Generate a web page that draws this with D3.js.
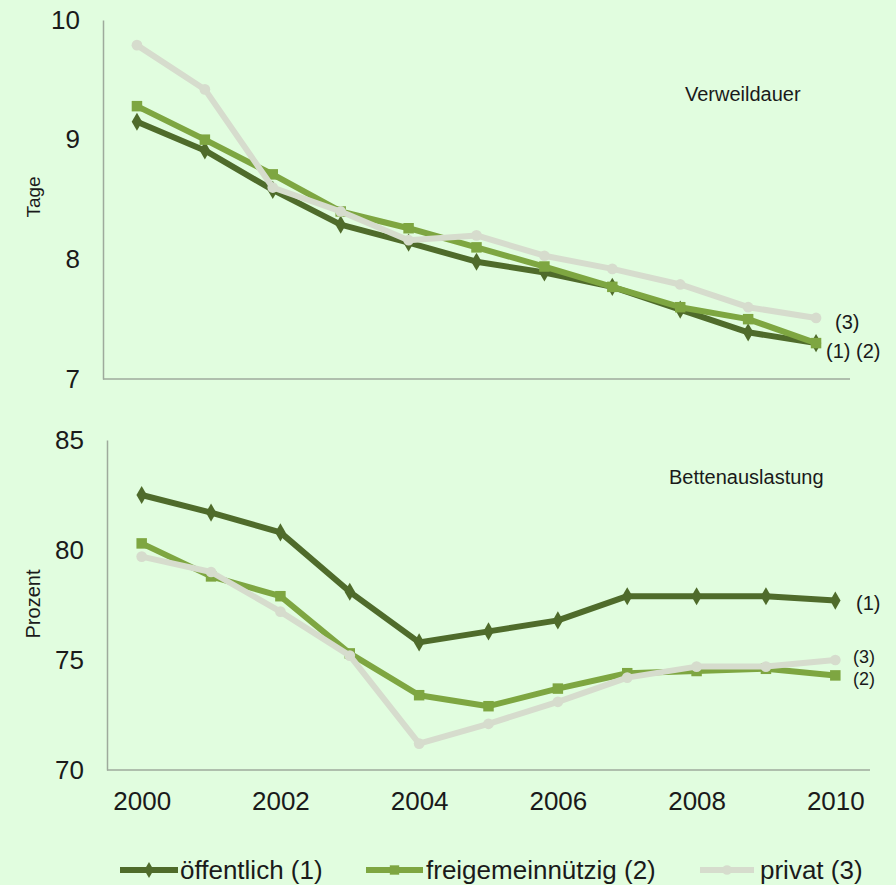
<!DOCTYPE html>
<html><head><meta charset="utf-8">
<script src="https://cdn.jsdelivr.net/npm/d3@7"></script>
<style>
html,body{margin:0;padding:0;background:#e1fddf;}
svg{display:block;font-family:"Liberation Sans",Arial,sans-serif;}
</style></head>
<body><svg id="c" width="896" height="885"></svg>
<script>
const years = [2000,2001,2002,2003,2004,2005,2006,2007,2008,2009,2010];
const seriesNames = ["öffentlich (1)","freigemeinnützig (2)","privat (3)"];
const stayOeff = [9.15,8.91,8.58,8.29,8.14,7.98,7.89,7.77,7.58,7.39,7.30];
const stayFrei = [9.28,9.00,8.71,8.40,8.26,8.10,7.94,7.77,7.60,7.50,7.30];
const stayPriv = [9.79,9.42,8.60,8.40,8.16,8.20,8.03,7.92,7.79,7.60,7.51];
const bedOeff = [82.5,81.7,80.8,78.1,75.8,76.3,76.8,77.9,77.9,77.9,77.7];
const bedFrei = [80.3,78.8,77.9,75.3,73.4,72.9,73.7,74.4,74.5,74.6,74.3];
const bedPriv = [79.7,79.0,77.2,75.2,71.2,72.1,73.1,74.2,74.7,74.7,75.0];
const stayTicks = [7,8,9,10];
const bedTicks = [70,75,80,85];
const yearTicks = [2000,2002,2004,2006,2008,2010];

const colors = ["#4f6b2b","#7ea641","#d6dccd"];
const markers = [d3.symbolDiamond, d3.symbolSquare, d3.symbolCircle];
const markerSize = [95,110,90];
const svg = d3.select("#c");
const axisColor = "#9eaa9c";
const textColor = "#1a1a1a";

function panel(opts){
  const g = svg.append("g");
  const x = d3.scalePoint().domain(years).range([opts.x0, opts.x1]).padding(0.5);
  const y = d3.scaleLinear().domain(opts.dom).range([opts.y1, opts.y0]);
  const ya = g.append("g").attr("transform",`translate(${opts.x0},0)`)
    .call(d3.axisLeft(y).tickValues(opts.ticks).tickSize(0).tickSizeOuter(0).tickPadding(23).tickFormat(d3.format("d")));
  ya.select(".domain").attr("stroke",axisColor).attr("stroke-width",1.5);
  ya.selectAll("text").attr("font-size",26).attr("fill",textColor).attr("font-family","Liberation Sans, Arial, sans-serif");
  const xa = g.append("g").attr("transform",`translate(0,${opts.y1})`)
    .call(d3.axisBottom(x).tickValues(opts.showX ? yearTicks : []).tickSize(0).tickSizeOuter(0).tickPadding(22));
  xa.select(".domain").attr("stroke",axisColor).attr("stroke-width",1.5).attr("d",`M${opts.x0},0H${opts.x1}`);
  xa.selectAll("text").attr("font-size",26).attr("fill",textColor).attr("font-family","Liberation Sans, Arial, sans-serif");
  const line = d3.line().x((d,i)=>x(years[i])).y(d=>y(d));
  opts.data.forEach((s,k)=>{
    g.append("path").attr("d",line(s)).attr("fill","none").attr("stroke",colors[k])
      .attr("stroke-width",6).attr("stroke-linejoin","round");
    g.selectAll(null).data(s).enter().append("path")
      .attr("d",d3.symbol().type(markers[k]).size(markerSize[k]))
      .attr("transform",(d,i)=>`translate(${x(years[i])},${y(d)})`)
      .attr("fill",colors[k]);
  });
  g.append("text").attr("x",opts.titleX).attr("y",opts.titleY).attr("dy","0.35em")
    .attr("font-size",20).attr("fill",textColor).text(opts.title);
  g.append("text").attr("transform",`translate(${opts.ylabX},${opts.ylabY}) rotate(-90)`)
    .attr("text-anchor","middle").attr("dy","0.35em").attr("font-size",opts.ylabSize).attr("fill",textColor).text(opts.ylab);
  opts.endLabels.forEach(l=>{
    g.append("text").attr("x",l[0]).attr("y",l[1]).attr("dy","0.35em").attr("font-size",l[3]||20).attr("fill",textColor).text(l[2]);
  });
}

panel({x0:103,x1:850,y0:20,y1:379,dom:[7,10],ticks:stayTicks,showX:false,
  data:[stayOeff,stayFrei,stayPriv],title:"Verweildauer",titleX:685,titleY:94,
  ylab:"Tage",ylabX:33,ylabY:197,ylabSize:19,
  endLabels:[[835,322,"(3)"],[826,351,"(1) (2)"]]});
panel({x0:107,x1:870,y0:440,y1:770,dom:[70,85],ticks:bedTicks,showX:true,
  data:[bedOeff,bedFrei,bedPriv],title:"Bettenauslastung",titleX:669,titleY:477,
  ylab:"Prozent",ylabX:33,ylabY:604,ylabSize:20,
  endLabels:[[856,603,"(1)"],[853,657,"(3)",18],[853,679,"(2)",18]]});

// legend
const legend = [[120,178,180],[366,423,426],[700,754,760]];
const ly = 870;
legend.forEach((p,k)=>{
  const lg = svg.append("g");
  lg.append("line").attr("x1",p[0]).attr("x2",p[1]).attr("y1",ly).attr("y2",ly)
    .attr("stroke",colors[k]).attr("stroke-width",6);
  lg.append("path").attr("d",d3.symbol().type(markers[k]).size(markerSize[k]*0.8))
    .attr("transform",`translate(${(p[0]+p[1])/2},${ly})`).attr("fill",colors[k]);
  lg.append("text").attr("x",p[2]).attr("y",ly).attr("dy","0.35em").attr("font-size",26)
    .attr("fill",textColor).text(seriesNames[k]);
});
</script></body></html>
